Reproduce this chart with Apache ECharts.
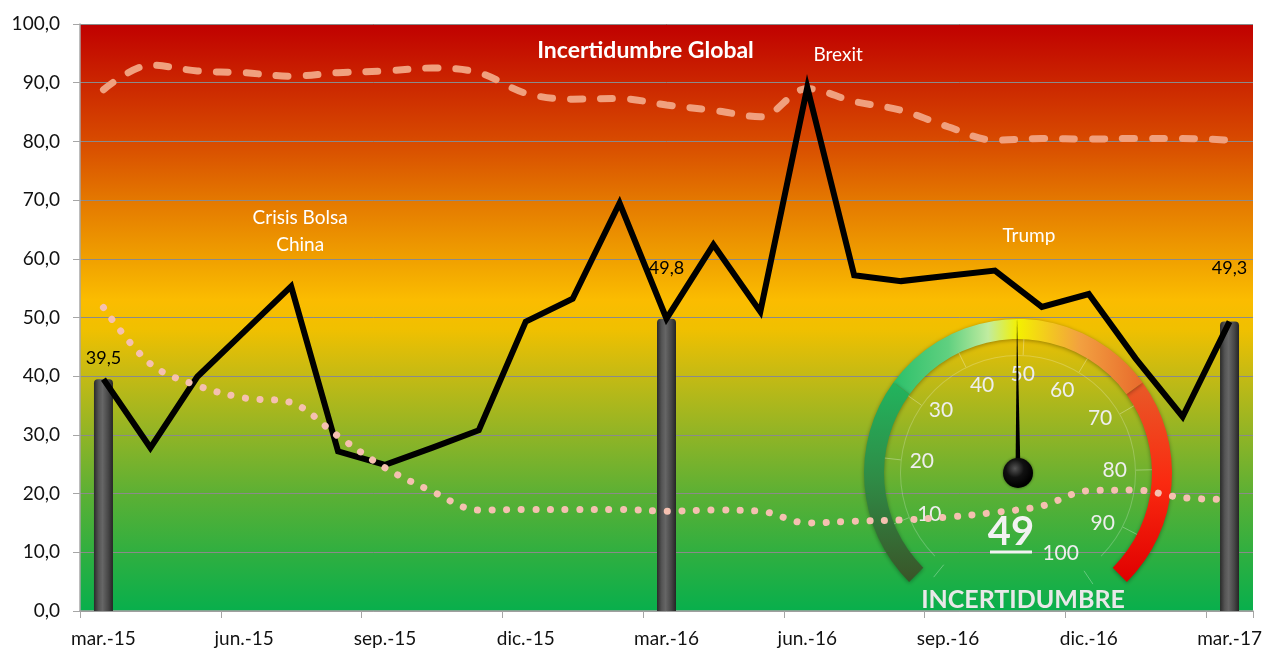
<!DOCTYPE html>
<html><head><meta charset="utf-8">
<script src="https://cdn.jsdelivr.net/npm/echarts@6/dist/echarts.min.js"></script>
<style>html,body{margin:0;padding:0;background:#fff}#c{width:1265px;height:653px}</style>
</head><body><div id="c"></div>
<script>
const months = ['mar.-15','abr.-15','may.-15','jun.-15','jul.-15','ago.-15','sep.-15','oct.-15','nov.-15','dic.-15','ene.-16','feb.-16','mar.-16','abr.-16','may.-16','jun.-16','jul.-16','ago.-16','sep.-16','oct.-16','nov.-16','dic.-16','ene.-17','feb.-17','mar.-17'];
const indice = [39.5,27.8,39.9,47.6,55.3,27.2,24.9,27.8,30.8,49.3,53.2,69.5,49.8,62.4,51.0,89.2,57.2,56.2,57.1,58.0,51.8,54.0,43.0,33.1,49.3];
const maximo = [88.8,93.0,92.0,91.7,91.1,91.7,92.0,92.5,91.7,88.2,87.2,87.3,86.2,85.3,84.2,89.0,86.8,85.3,82.5,80.2,80.5,80.4,80.5,80.5,80.2];
const minimo = [51.7,42.1,38.4,36.3,35.5,29.8,24.4,20.4,17.2,17.3,17.3,17.3,17.0,17.2,17.0,15.0,15.3,15.5,16.0,16.8,17.9,20.5,20.6,19.3,19.0];
const hitos = [39.5,'-','-','-','-','-','-','-','-','-','-','-',49.8,'-','-','-','-','-','-','-','-','-','-','-',49.3];
const gaugeValue = 49;
const gaugeName = 'INCERTIDUMBRE';

const FONT = 'Lato';
const fmt = v => Number(v).toFixed(1).replace('.', ',');
const G = echarts.graphic;

const chart = echarts.init(document.getElementById('c'), null, {renderer: 'canvas'});

const bgGrad = new G.LinearGradient(0, 0, 0, 1, [
  {offset: 0, color: '#C00000'},
  {offset: 0.1, color: '#CB2600'},
  {offset: 0.2, color: '#D84B00'},
  {offset: 0.3, color: '#E47800'},
  {offset: 0.4, color: '#F0A000'},
  {offset: 0.47, color: '#FBBC00'},
  {offset: 0.52, color: '#F0C000'},
  {offset: 0.6, color: '#C4BA14'},
  {offset: 0.7, color: '#90B426'},
  {offset: 0.8, color: '#5CB034'},
  {offset: 0.9, color: '#30AF40'},
  {offset: 1, color: '#08AF4C'}
]);

const barGrad = new G.LinearGradient(0, 0, 1, 0, [
  {offset: 0, color: '#2a2a2a'},
  {offset: 0.25, color: '#555'},
  {offset: 0.45, color: '#666'},
  {offset: 0.75, color: '#474747'},
  {offset: 1, color: '#252525'}
]);

const arcGreen = new G.LinearGradient(0, 1, 0, 0, [
  {offset: 0, color: '#3a5428'},
  {offset: 0.5, color: '#2f8a45'},
  {offset: 1, color: '#22b45e'}
]);
const arcMid = new G.LinearGradient(0, 0, 1, 0, [
  {offset: 0, color: '#2cc06a'},
  {offset: 0.22, color: '#60d080'},
  {offset: 0.38, color: '#c0eca0'},
  {offset: 0.5, color: '#f4f000'},
  {offset: 0.75, color: '#f2a040'},
  {offset: 1, color: '#e86a2c'}
]);
const arcRed = new G.LinearGradient(0, 0, 0, 1, [
  {offset: 0, color: '#e85a28'},
  {offset: 0.5, color: '#fa2a10'},
  {offset: 1, color: '#e00000'}
]);

const option = {
  animation: false,
  textStyle: {fontFamily: FONT},
  grid: {left: 80, right: 12, top: 24, bottom: 42, show: true, backgroundColor: bgGrad, borderWidth: 0},
  xAxis: {
    type: 'category', data: months, boundaryGap: true,
    axisLine: {lineStyle: {color: '#a6a6a6', width: 1.5}},
    axisTick: {show: true, interval: 2, alignWithLabel: false, length: 7, lineStyle: {color: '#a6a6a6'}},
    axisLabel: {interval: 2, color: '#111', fontSize: 19, margin: 18, fontFamily: FONT},
    splitLine: {show: false}
  },
  yAxis: {
    type: 'value', min: 0, max: 100, interval: 10,
    axisLine: {show: true, lineStyle: {color: '#a6a6a6', width: 1.5}},
    axisTick: {show: true, length: 7, lineStyle: {color: '#a6a6a6'}},
    axisLabel: {formatter: v => fmt(v), color: '#111', fontSize: 19, margin: 20, fontFamily: FONT},
    splitLine: {show: true, lineStyle: {color: '#8a8a8a', width: 1}}
  },
  series: [
    {
      type: 'gauge', z: 2,
      center: [1018, 473], radius: 154,
      startAngle: 225, endAngle: -45, min: 0, max: 100,
      axisLine: {lineStyle: {width: 20, color: [[0.3, arcGreen], [0.7, arcMid], [1, arcRed]], shadowBlur: 4, shadowColor: 'rgba(0,0,0,0.35)', shadowOffsetY: 1}},
      splitLine: {show: false}, axisTick: {show: false}, axisLabel: {show: false},
      pointer: {show: false}, anchor: {show: false}, detail: {show: false}, title: {show: false},
      data: [{value: gaugeValue}]
    },
    {
      type: 'gauge', z: 2,
      center: [1018, 473], radius: 118,
      startAngle: 225, endAngle: -45, min: 0, max: 100,
      axisLine: {lineStyle: {width: 1, color: [[1, 'rgba(255,255,255,0.22)']]}},
      splitLine: {show: false}, axisTick: {show: false}, axisLabel: {show: false},
      pointer: {show: false}, anchor: {show: false}, detail: {show: false}, title: {show: false},
      data: [{value: gaugeValue}]
    },
    {
      type: 'gauge', z: 3,
      center: [1018, 473], radius: 134,
      startAngle: 231, endAngle: -56, min: 0, max: 100, splitNumber: 10,
      axisLine: {show: false, lineStyle: {width: 0}},
      splitLine: {show: true, length: 16, distance: 0, lineStyle: {color: 'rgba(255,255,255,0.3)', width: 1}},
      axisTick: {show: false},
      axisLabel: {show: true, distance: 9, color: '#eeeeee', fontSize: 21, fontFamily: FONT,
        formatter: v => (v === 0 ? '' : String(v))},
      pointer: {show: true, length: '116%', width: 2.5, offsetCenter: [0, 0], itemStyle: {color: '#000'}},
      anchor: {show: true, size: 30, showAbove: true,
        itemStyle: {color: new G.RadialGradient(0.4, 0.35, 0.6, [{offset: 0, color: '#555'}, {offset: 0.5, color: '#111'}, {offset: 1, color: '#000'}]), shadowBlur: 3, shadowColor: 'rgba(0,0,0,0.5)'}},
      title: {show: true, offsetCenter: [5, 127], color: '#e8e8e8', fontSize: 25, fontWeight: 'bold', fontFamily: FONT},
      detail: {show: true, offsetCenter: [-7, 61], formatter: '{v|{value}}\n{u| }',
        rich: {
          v: {fontSize: 40, fontWeight: 'bold', color: '#f2f2f2', fontFamily: FONT, lineHeight: 36, align: 'center'},
          u: {width: 42, height: 3, lineHeight: 4, backgroundColor: '#f2f2f2', align: 'center'}
        }},
      data: [{value: gaugeValue, name: gaugeName}]
    },
    {
      type: 'bar', data: hitos, barWidth: 19, z: 4,
      itemStyle: {color: barGrad, borderRadius: [4, 4, 0, 0]},
      label: {show: true, position: 'top', formatter: p => fmt(p.value), color: '#000', fontSize: 18, fontFamily: FONT}
    },
    {
      type: 'line', data: maximo, smooth: 0.35, symbol: 'none', z: 5,
      lineStyle: {color: '#F0A07E', width: 7, type: [12, 18], cap: 'round'}
    },
    {
      type: 'line', data: indice, symbol: 'none', z: 6,
      lineStyle: {color: '#000', width: 6, join: 'miter'},
      markPoint: {
        symbol: 'circle', symbolSize: 0, silent: true,
        label: {show: true, position: 'inside', color: '#fff', fontSize: 19, fontFamily: FONT, lineHeight: 27},
        data: [
          {name: 'a', coord: [12, 95.4], value: 'Incertidumbre Global', label: {formatter: 'Incertidumbre Global', fontWeight: 'bold', fontSize: 23, offset: [-21, 0]}},
          {name: 'b', coord: [16, 94.7], value: 'Brexit', label: {formatter: 'Brexit', offset: [-16, 0]}},
          {name: 'c', coord: [4, 64.6], value: 'Crisis', label: {formatter: 'Crisis Bolsa\nChina', align: 'center', offset: [9, 0]}},
          {name: 'd', coord: [20, 63.9], value: 'Trump', label: {formatter: 'Trump', offset: [-13, 0]}}
        ]
      }
    },
    {
      type: 'line', data: minimo, smooth: 0.35, symbol: 'none', z: 7,
      lineStyle: {color: '#F5C0B0', width: 7, type: [0.1, 14.5], cap: 'round'}
    }
  ]
};
// per-item label distances for bar annotations
option.series[3].data = hitos.map((v, i) => {
  if (v === '-') return v;
  const d = i === 0 ? 12 : (i === 24 ? 44 : 41);
  return {value: v, label: {distance: d}};
});
chart.setOption(option);
</script>
</body></html>
